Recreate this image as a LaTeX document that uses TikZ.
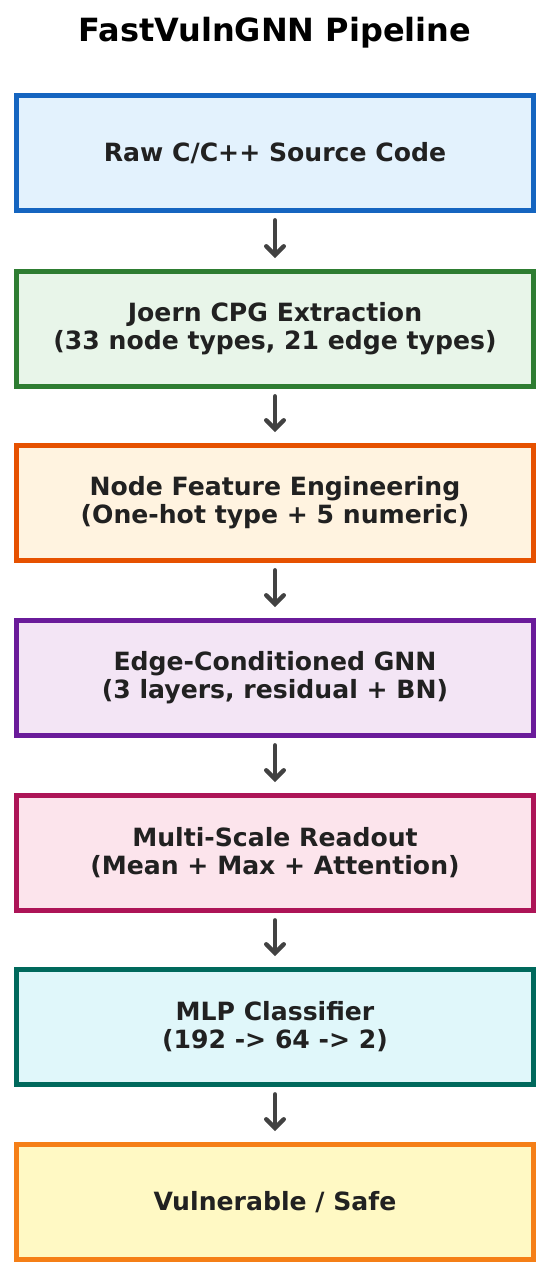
\documentclass[tikz,border=0pt]{standalone}
\usepackage{fontspec}
\setmainfont{DejaVu Sans}
\usepackage{tikz}
\usetikzlibrary{arrows.meta}

\definecolor{txt}{HTML}{212121}
\definecolor{arr}{HTML}{424242}
\definecolor{bluebd}{HTML}{1565C0}
\definecolor{bluefl}{HTML}{E3F2FD}
\definecolor{greenbd}{HTML}{2E7D32}
\definecolor{greenfl}{HTML}{E8F5E9}
\definecolor{orangebd}{HTML}{E65100}
\definecolor{orangefl}{HTML}{FFF3E0}
\definecolor{purplebd}{HTML}{6A1B9A}
\definecolor{purplefl}{HTML}{F3E5F5}
\definecolor{pinkbd}{HTML}{AD1457}
\definecolor{pinkfl}{HTML}{FCE4EC}
\definecolor{tealbd}{HTML}{00695C}
\definecolor{tealfl}{HTML}{E0F7FA}
\definecolor{yellowbd}{HTML}{F57F17}
\definecolor{yellowfl}{HTML}{FFF9C4}

\begin{document}
\begin{tikzpicture}[x=0.02cm,y=-0.02cm,
  stage/.style={draw,rectangle,line width=3.2pt,minimum width=10.34cm,minimum height=2.3cm,
    align=center,font=\fontsize{14.3}{16}\selectfont\bfseries,text=txt,inner sep=0pt},
  flow/.style={-{Straight Barb[length=5pt,width=10pt,line cap=round]},line width=2.5pt,
    line cap=round,arr,shorten <=4pt,shorten >=6pt}]
\useasboundingbox (0,0) rectangle (550,1280);
\node[font=\fontsize{18.2}{21}\selectfont\bfseries] (title) at (275,33) {FastVulnGNN Pipeline};
\node[stage,draw=bluebd,fill=bluefl] (raw) at (275,153) {Raw C/C++ Source Code};
\node[stage,draw=greenbd,fill=greenfl] (cpg) at (275,329) {Joern CPG Extraction\\(33 node types, 21 edge types)};
\node[stage,draw=orangebd,fill=orangefl] (feat) at (275,503) {Node Feature Engineering\\(One-hot type + 5 numeric)};
\node[stage,draw=purplebd,fill=purplefl] (gnn) at (275,678) {Edge-Conditioned GNN\\(3 layers, residual + BN)};
\node[stage,draw=pinkbd,fill=pinkfl] (read) at (275,853) {Multi-Scale Readout\\(Mean + Max + Attention)};
\node[stage,draw=tealbd,fill=tealfl] (mlp) at (275,1027) {MLP Classifier\\(192 -> 64 -> 2)};
\node[stage,draw=yellowbd,fill=yellowfl] (out) at (275,1202) {Vulnerable / Safe};

\draw[flow] (raw) to (cpg);
\draw[flow] (cpg) to (feat);
\draw[flow] (feat) to (gnn);
\draw[flow] (gnn) to (read);
\draw[flow] (read) to (mlp);
\draw[flow] (mlp) to (out);
\end{tikzpicture}
\end{document}
